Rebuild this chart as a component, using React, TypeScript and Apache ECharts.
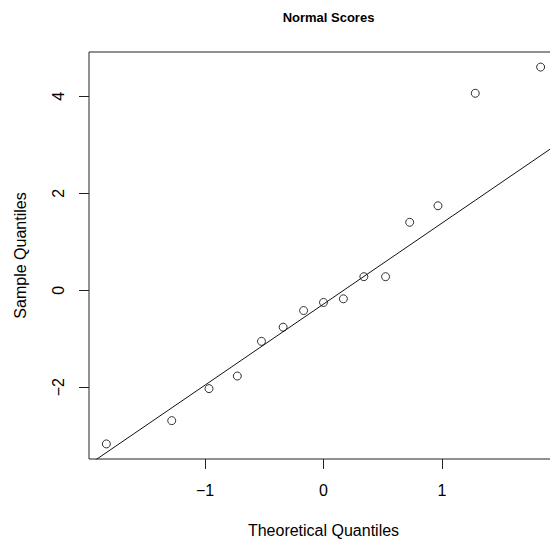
import React, { useEffect, useRef } from "react";
import * as echarts from "echarts";

const chartTitle = "Normal Scores";
const xAxisTitle = "Theoretical Quantiles";
const yAxisTitle = "Sample Quantiles";

// theoretical normal quantiles (n = 15)
const theoretical = [-1.834, -1.282, -0.967, -0.728, -0.524, -0.341, -0.168, 0, 0.168, 0.341, 0.524, 0.728, 0.967, 1.282, 1.834];
// sample values (sorted)
const sample = [-3.17, -2.69, -2.03, -1.77, -1.055, -0.763, -0.42, -0.253, -0.178, 0.278, 0.278, 1.4, 1.74, 4.06, 4.6];

const xTicks = [-1, 0, 1];
const yTicks = [-2, 0, 2, 4];

const FONT = "'Liberation Sans', Arial, Helvetica, sans-serif";

function quantile7(sorted: number[], p: number) {
  const h = (sorted.length - 1) * p;
  const lo = Math.floor(h);
  const hi = Math.ceil(h);
  return sorted[lo] + (h - lo) * (sorted[hi] - sorted[lo]);
}

export default function App() {
  const ref = useRef<HTMLDivElement>(null);
  useEffect(() => {
    if (!ref.current) return;
    const chart = echarts.init(ref.current, undefined, { renderer: "svg" });

    const xr = theoretical[theoretical.length - 1] - theoretical[0];
    const xmin = theoretical[0] - 0.04 * xr;
    const xmax = theoretical[theoretical.length - 1] + 0.04 * xr;
    const ys = [...sample].sort((a, b) => a - b);
    const yr = ys[ys.length - 1] - ys[0];
    const ymin = ys[0] - 0.04 * yr;
    const ymax = ys[ys.length - 1] + 0.04 * yr;

    // qqline through the quartiles
    const q1 = quantile7(ys, 0.25);
    const q3 = quantile7(ys, 0.75);
    const z = 0.6744898;
    const slope = (q3 - q1) / (2 * z);
    const intercept = q1 + z * slope;
    const lineData = [
      [xmin, intercept + slope * xmin],
      [xmax, intercept + slope * xmax],
    ];

    const fmt = (v: number) => String(v).replace("-", "\u2212");

    chart.setOption({
      animation: false,
      backgroundColor: "#fff",
      title: {
        text: chartTitle,
        left: 323.5,
        textAlign: "center",
        top: 6,
        textStyle: { fontFamily: FONT, fontSize: 13, fontWeight: "bold", color: "#000" },
      },
      grid: {
        left: 89,
        top: 52,
        width: 469,
        height: 411,
        show: true,
        borderColor: "#222",
        borderWidth: 1,
        backgroundColor: "transparent",
        containLabel: false,
      },
      xAxis: {
        type: "value",
        min: xmin,
        max: xmax,
        splitLine: { show: false },
        axisLine: { show: false, onZero: false },
        axisTick: { show: true, length: 10, lineStyle: { color: "#222", width: 1 }, customValues: xTicks },
        axisLabel: {
          customValues: xTicks,
          formatter: fmt,
          fontFamily: FONT,
          fontSize: 16,
          color: "#000",
          margin: 23,
        },
        name: xAxisTitle,
        nameLocation: "middle",
        nameGap: 63,
        nameTextStyle: { fontFamily: FONT, fontSize: 16, color: "#000" },
      },
      yAxis: {
        type: "value",
        min: ymin,
        max: ymax,
        splitLine: { show: false },
        axisLine: { show: false, onZero: false },
        axisTick: { show: true, length: 10, lineStyle: { color: "#222", width: 1 }, customValues: yTicks },
        axisLabel: {
          customValues: yTicks,
          formatter: fmt,
          rotate: 90,
          fontFamily: FONT,
          fontSize: 16,
          color: "#000",
          margin: 23,
        },
        name: yAxisTitle,
        nameLocation: "middle",
        nameGap: 61,
        nameRotate: 90,
        nameTextStyle: { fontFamily: FONT, fontSize: 16, color: "#000" },
      },
      series: [
        {
          type: "line",
          data: lineData,
          symbol: "none",
          clip: true,
          lineStyle: { color: "#111", width: 1 },
          silent: true,
          z: 1,
        },
        {
          type: "scatter",
          data: theoretical.map((x, i) => [x, sample[i]]),
          symbol: "circle",
          symbolSize: 8,
          itemStyle: { color: "transparent", borderColor: "#000", borderWidth: 1 },
          z: 2,
        },
      ],
    });
    return () => chart.dispose();
  }, []);
  return (
    <div
      style={{ position: "absolute", left: 0, top: 0, width: 550, height: 543, overflow: "hidden", background: "#fff" }}
    >
      <div ref={ref} style={{ width: 570, height: 543 }} />
    </div>
  );
}
